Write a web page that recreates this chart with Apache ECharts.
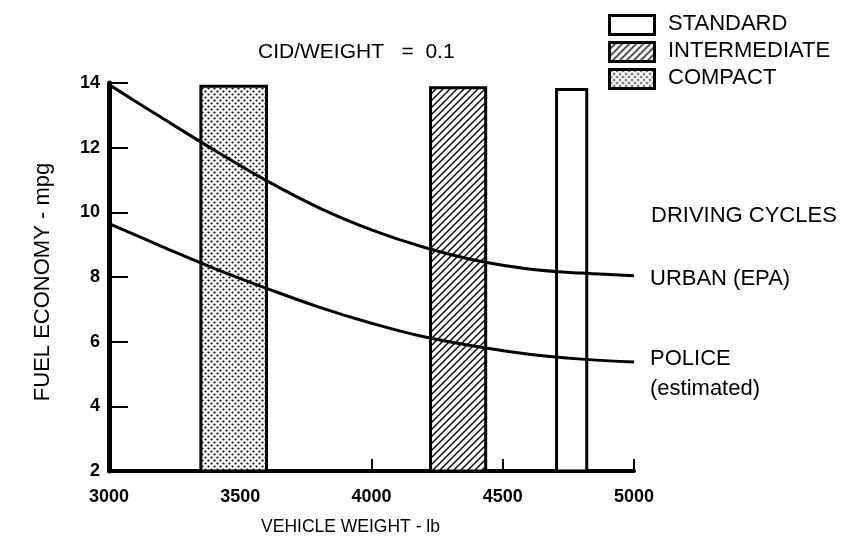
<!DOCTYPE html>
<html>
<head>
<meta charset="utf-8">
<script src="https://cdn.jsdelivr.net/npm/echarts@6/dist/echarts.min.js"></script>
<style>
html,body{margin:0;padding:0;background:#fff;}
#chart{width:866px;height:546px;}
</style>
</head>
<body>
<div id="chart"></div>
<script>
// ---- data ----
const xTicks = [3000, 3500, 4000, 4500, 5000];
const yTicks = [2, 4, 6, 8, 10, 12, 14];

const weights = [3000, 3200, 3400, 3600, 3800, 4000, 4200, 4400, 4600, 4800, 5000];
const urbanY = [13.95, 12.93, 11.93, 10.98, 10.14, 9.46, 8.92, 8.51, 8.25, 8.12, 8.04];
const policeY = [9.65, 8.95, 8.27, 7.65, 7.07, 6.57, 6.15, 5.85, 5.61, 5.46, 5.37];

const barCategories = ['COMPACT', 'INTERMEDIATE', 'STANDARD'];
const barStart = [3350, 4225, 4705];
const barEnd = [3600, 4435, 4820];
const barTop = [13.9, 13.85, 13.8];

const titleText = 'CID/WEIGHT   =  0.1';
const cycleTitle = 'DRIVING CYCLES';
const urbanLabel = 'URBAN (EPA)';
const policeLabel = ['POLICE', '(estimated)'];

// ---- patterns ----
function dotPattern() {
  const c = document.createElement('canvas');
  c.width = 6; c.height = 6;
  const g = c.getContext('2d');
  g.fillStyle = '#fff'; g.fillRect(0, 0, 6, 6);
  g.fillStyle = '#000';
  g.beginPath(); g.arc(1.5, 1.5, 1.1, 0, Math.PI * 2); g.fill();
  g.beginPath(); g.arc(4.5, 4.5, 1.1, 0, Math.PI * 2); g.fill();
  return c;
}
function hatchPattern() {
  const s = 7;
  const c = document.createElement('canvas');
  c.width = s; c.height = s;
  const g = c.getContext('2d');
  g.fillStyle = '#fff'; g.fillRect(0, 0, s, s);
  g.strokeStyle = '#000'; g.lineWidth = 1.4;
  g.beginPath();
  g.moveTo(-1, s + 1); g.lineTo(s + 1, -1);
  g.moveTo(-1, 1); g.lineTo(1, -1);
  g.moveTo(s - 1, s + 1); g.lineTo(s + 1, s - 1);
  g.stroke();
  return c;
}
const fills = [
  { image: dotPattern(), repeat: 'repeat' },
  { image: hatchPattern(), repeat: 'repeat' },
  '#fff'
];

const FONT = '"Liberation Sans", Arial, Helvetica, sans-serif';

const chart = echarts.init(document.getElementById('chart'), null, { renderer: 'canvas' });

const barData = barCategories.map((c, i) => [barStart[i], barEnd[i], barTop[i], i]);

// legend graphics
const legendItems = [];
const legendOrder = [2, 1, 0];
legendOrder.forEach((idx, k) => {
  const y = 14 + k * 27;
  legendItems.push({
    type: 'rect', left: 608, top: y,
    shape: { width: 45, height: 19 },
    style: { fill: fills[idx], stroke: '#000', lineWidth: 3 }
  });
  legendItems.push({
    type: 'text', left: 668, top: y - 1,
    style: { text: barCategories[idx], font: '22px ' + FONT, fill: '#000' }
  });
});

const option = {
  animation: false,
  backgroundColor: '#fff',
  grid: { left: 109, right: 232, top: 83, bottom: 75 },
  title: {
    text: titleText, left: 253, top: 37,
    textStyle: { fontFamily: FONT, fontSize: 21, fontWeight: 'normal', color: '#000' }
  },
  xAxis: {
    type: 'value', min: 3000, max: 5000, interval: 500,
    name: 'VEHICLE WEIGHT - lb', nameLocation: 'middle', nameGap: 47,
    nameTextStyle: { fontFamily: FONT, fontSize: 17.5, color: '#000', padding: [0, 42, 0, 0] },
    axisLine: { lineStyle: { color: '#000', width: 4 } },
    axisTick: { inside: true, length: 12, lineStyle: { color: '#000', width: 2 } },
    axisLabel: {
      fontFamily: FONT, fontSize: 18, fontWeight: 'bold', color: '#000', margin: 17,
      formatter: v => (xTicks.indexOf(v) >= 0 ? String(v) : '')
    },
    splitLine: { show: false }
  },
  yAxis: {
    type: 'value', min: 2, max: 14, interval: 2,
    name: 'FUEL ECONOMY - mpg', nameLocation: 'middle', nameGap: 55, nameRotate: 90,
    nameTextStyle: { fontFamily: FONT, fontSize: 22, color: '#000', padding: [0, 10, 0, 0] },
    axisLine: { lineStyle: { color: '#000', width: 5 } },
    axisTick: { inside: true, length: 19, lineStyle: { color: '#000', width: 2 } },
    axisLabel: {
      fontFamily: FONT, fontSize: 18, fontWeight: 'bold', color: '#000', margin: 9,
      formatter: v => (yTicks.indexOf(v) >= 0 ? String(v) : '')
    },
    splitLine: { show: false }
  },
  series: [
    {
      type: 'custom', name: 'bars', z: 2,
      renderItem: function (params, api) {
        const x0 = api.value(0), x1 = api.value(1), top = api.value(2), i = api.value(3);
        const p0 = api.coord([x0, 2]);
        const p1 = api.coord([x1, top]);
        return {
          type: 'rect',
          shape: { x: p0[0], y: p1[1], width: p1[0] - p0[0], height: p0[1] - p1[1] },
          style: { fill: fills[i], stroke: '#000', lineWidth: 3 }
        };
      },
      data: barData
    },
    {
      type: 'line', name: 'URBAN (EPA)', smooth: 0.4, symbol: 'none', z: 5,
      lineStyle: { color: '#000', width: 3 },
      data: weights.map((x, i) => [x, urbanY[i]])
    },
    {
      type: 'line', name: 'POLICE', smooth: 0.4, symbol: 'none', z: 5,
      lineStyle: { color: '#000', width: 3 },
      data: weights.map((x, i) => [x, policeY[i]])
    }
  ],
  graphic: legendItems.concat([
    { type: 'text', left: 651, top: 205, style: { text: cycleTitle, font: '22px ' + FONT, fill: '#000' } },
    { type: 'text', left: 650, top: 268, style: { text: urbanLabel, font: '22px ' + FONT, fill: '#000' } },
    { type: 'text', left: 650, top: 348, style: { text: policeLabel[0], font: '22px ' + FONT, fill: '#000' } },
    { type: 'text', left: 650, top: 378, style: { text: policeLabel[1], font: '22px ' + FONT, fill: '#000' } }
  ])
};
chart.setOption(option);
</script>
</body>
</html>
